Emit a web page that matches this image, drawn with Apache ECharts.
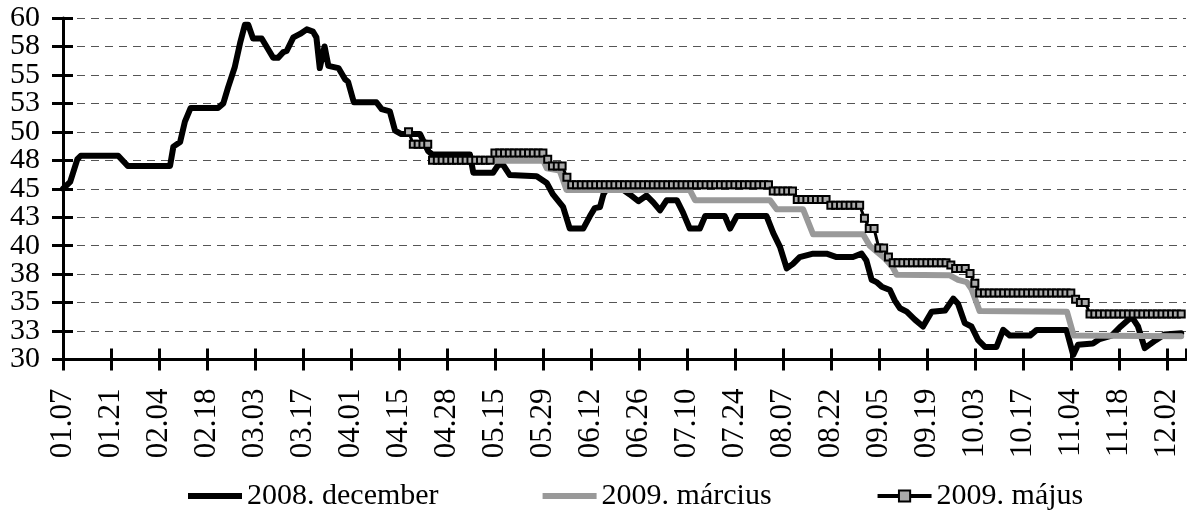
<!DOCTYPE html>
<html>
<head>
<meta charset="utf-8">
<script src="https://cdn.jsdelivr.net/npm/echarts@6/dist/echarts.min.js"></script>
<style>
  html, body { margin: 0; padding: 0; background: #fff; }
  #chart { width: 1187px; height: 513px; }
</style>
</head>
<body>
<div id="chart"></div>
<script>
  // x = business-day index from 01.07, a tick every 10 days
  const xTickLabels = ['01.07', '01.21', '02.04', '02.18', '03.03', '03.17', '04.01', '04.15',
    '04.28', '05.15', '05.29', '06.12', '06.26', '07.10', '07.24', '08.07', '08.22', '09.05',
    '09.19', '10.03', '10.17', '11.04', '11.18', '12.02'];
  const yTickLabels = ['30', '33', '35', '38', '40', '43', '45', '48', '50', '53', '55', '58', '60'];

  const seriesNames = ['2008. december', '2009. március', '2009. május'];

  // [day, value]
  const dec2008 = [[0, 45.0], [1.5, 45.6], [3.0, 47.6], [3.7, 47.9], [11.5, 47.9], [13.5, 47.0],
    [22.3, 47.0], [23.0, 48.7], [24.4, 49.1], [25.4, 50.9], [26.6, 52.1], [32.3, 52.1], [33.4, 52.5],
    [34.4, 53.9], [35.8, 55.7], [36.9, 57.8], [37.9, 59.4], [38.6, 59.4], [39.6, 58.2], [41.4, 58.2],
    [42.4, 57.5], [43.8, 56.5], [44.8, 56.5], [45.9, 57.0], [46.6, 57.1], [48.0, 58.3], [49.4, 58.6],
    [50.8, 59.0], [52.1, 58.8], [52.8, 58.3], [53.5, 55.6], [54.5, 57.5], [55.3, 55.8], [57.4, 55.6],
    [58.8, 54.6], [59.4, 54.4], [60.6, 52.6], [65.3, 52.6], [66.4, 52.0], [68.1, 51.8], [69.2, 50.1],
    [70.5, 49.8], [74.4, 49.8], [76.1, 48.3], [77.0, 48.0], [84.8, 48.0], [85.5, 46.4], [89.6, 46.4],
    [90.7, 47.1], [91.7, 47.1], [93.1, 46.2], [98.7, 46.1], [100.8, 45.5], [102.1, 44.5], [104.2, 43.4],
    [105.6, 41.5], [108.4, 41.5], [109.8, 42.6], [110.8, 43.3], [111.9, 43.4], [112.6, 44.5], [113.3, 45.0],
    [116.7, 44.9], [118.1, 44.5], [119.9, 43.9], [121.6, 44.4], [123.0, 43.8], [124.4, 43.1], [125.8, 44.0],
    [127.9, 44.0], [129.2, 42.9], [130.6, 41.5], [132.7, 41.5], [133.8, 42.6], [137.9, 42.6], [139.0, 41.5],
    [140.4, 42.6], [146.6, 42.6], [148.0, 41.1], [149.4, 39.9], [150.8, 38.0], [152.1, 38.4], [153.5, 39.0],
    [156.3, 39.3], [159.1, 39.3], [161.2, 39.0], [164.6, 39.0], [166.4, 39.3], [167.4, 38.7], [168.5, 37.0],
    [169.5, 36.8], [170.6, 36.4], [172.3, 36.1], [173.3, 35.2], [174.4, 34.5], [175.8, 34.2], [177.5, 33.5],
    [179.2, 32.9], [181.0, 34.2], [183.8, 34.3], [185.5, 35.35], [186.5, 34.9], [187.9, 33.2], [189.3, 32.9],
    [190.7, 31.7], [192.1, 31.1], [194.5, 31.1], [195.9, 32.6], [197.3, 32.1], [201.5, 32.1], [202.9, 32.6],
    [209.1, 32.6], [210.5, 30.4], [211.5, 31.3], [214.6, 31.4], [216.0, 31.8], [218.5, 32.1], [220.4, 32.9],
    [222.7, 33.75], [224.0, 32.9], [225.4, 31.0], [227.7, 31.7], [229.5, 32.2], [233, 32.3]];

  const mar2009 = [[77, 47.45], [100.1, 47.45], [100.8, 46.8], [103.5, 46.6], [104.9, 44.9], [130.6, 44.9],
    [131.7, 44.0], [147.3, 44.0], [148.7, 43.2], [154.2, 43.2], [156.3, 41.0], [166.7, 41.0], [168.1, 40.0],
    [169.5, 39.5], [171.2, 38.9], [172.9, 38.1], [173.7, 37.45], [184.8, 37.4], [186.5, 37.0], [188.3, 36.8],
    [189.3, 36.2], [191.0, 34.25], [209.2, 34.2], [210.6, 32.1], [233, 32.05]];

  // one value per business day, starting at day 72
  const majStart = 72;
  const majValues = [50.0,
    48.9, 48.9, 48.9, 48.9,
    47.5, 47.5, 47.5, 47.5, 47.5, 47.5, 47.5, 47.5, 47.5, 47.5, 47.5, 47.5, 47.5,
    48.15, 48.15, 48.15, 48.15, 48.15, 48.15, 48.15, 48.15, 48.15, 48.15, 48.15,
    47.6, 47.0, 47.0, 47.0, 46.0,
    45.35, 45.35, 45.35, 45.35, 45.35, 45.35, 45.35, 45.35, 45.35, 45.35,
    45.35, 45.35, 45.35, 45.35, 45.35, 45.35, 45.35, 45.35, 45.35, 45.35,
    45.35, 45.35, 45.35, 45.35, 45.35, 45.35, 45.35, 45.35, 45.35, 45.35,
    45.35, 45.35, 45.35, 45.35, 45.35, 45.35, 45.35, 45.35, 45.35, 45.35,
    45.35, 45.35,
    44.8, 44.8, 44.8, 44.8, 44.8,
    44.05, 44.05, 44.05, 44.05, 44.05, 44.05, 44.05,
    43.55, 43.55, 43.55, 43.55, 43.55, 43.55, 43.55,
    42.4, 41.5, 41.5, 39.8, 39.8, 39.0,
    38.5, 38.5, 38.5, 38.5, 38.5, 38.5, 38.5, 38.5, 38.5, 38.5, 38.5, 38.5,
    38.3, 38.0, 38.0, 38.0, 37.55, 36.7,
    35.85, 35.85, 35.85, 35.85, 35.85, 35.85, 35.85, 35.85, 35.85, 35.85,
    35.85, 35.85, 35.85, 35.85, 35.85, 35.85, 35.85, 35.85, 35.85, 35.85,
    35.3, 35.0, 35.0,
    34.0, 34.0, 34.0, 34.0, 34.0, 34.0, 34.0, 34.0, 34.0, 34.0,
    34.0, 34.0, 34.0, 34.0, 34.0, 34.0, 34.0, 34.0, 34.0, 34.0];

  const FONT = 'Liberation Serif';
  const xMax = 234;
  // plain thick bar used as legend icon for the two lines without markers
  const lineIcon = 'path://M0,0H54V6H0Z';

  let chart = echarts.init(document.getElementById('chart'), null, {renderer: 'canvas'});

  const tickStyle = {color: '#000', width: 3};

  // y labels sit 28px apart with a 30px font, so they are split over two
  // label-only axes (every other label) to stop echarts hiding 58 and 33
  function yLabelAxis(odd) {
    return {
      type: 'value',
      min: 30, max: 60, interval: 2.5,
      position: 'left',
      axisLine: {show: false},
      axisTick: {show: false},
      splitLine: {show: false},
      axisLabel: {
        margin: 23, fontSize: 30, fontFamily: FONT, color: '#000',
        formatter: function (v) {
          let i = Math.round((v - 30) / 2.5);
          return (i % 2 === 1) === odd ? yTickLabels[i] : '';
        }
      }
    };
  }

  const option = {
    animation: false,
    textStyle: {fontFamily: FONT, color: '#000'},
    grid: {left: 63, right: 1, top: 18, bottom: 153.5},
    legend: {
      data: [
        {name: seriesNames[0], icon: lineIcon},
        {name: seriesNames[1], icon: lineIcon},
        {name: seriesNames[2], lineStyle: {width: 4, color: '#000'}}
      ],
      left: 183,
      top: 476,
      itemWidth: 54,
      itemHeight: 14,
      itemGap: 104,
      textStyle: {fontFamily: FONT, fontSize: 30, color: '#000'}
    },
    xAxis: [
      {
        type: 'value',
        min: 0, max: xMax, interval: 10,
        position: 'bottom',
        axisLine: {show: true, lineStyle: {color: '#000', width: 3}},
        axisTick: {show: true, length: 11, lineStyle: tickStyle},
        splitLine: {show: false},
        axisLabel: {
          rotate: 90, margin: 29, fontSize: 31, fontFamily: FONT, color: '#000',
          showMaxLabel: false,
          formatter: function (v) { return xTickLabels[Math.round(v / 10)] || ''; }
        }
      },
      {
        // inner half of the crossing ticks
        type: 'value',
        min: 0, max: xMax, interval: 10,
        position: 'bottom',
        axisLine: {show: false},
        axisTick: {show: true, inside: true, length: 11, lineStyle: tickStyle},
        splitLine: {show: false},
        axisLabel: {show: false}
      }
    ],
    yAxis: [
      {
        type: 'value',
        min: 30, max: 60, interval: 2.5,
        position: 'left',
        axisLine: {show: true, lineStyle: {color: '#000', width: 3}},
        axisTick: {show: true, length: 11, lineStyle: tickStyle},
        splitLine: {show: true, lineStyle: {color: '#555', width: 1, type: [8, 6]}},
        axisLabel: {show: false}
      },
      {
        type: 'value',
        min: 30, max: 60, interval: 2.5,
        position: 'left',
        axisLine: {show: false},
        axisTick: {show: true, inside: true, length: 10, lineStyle: tickStyle},
        splitLine: {show: false},
        axisLabel: {show: false}
      },
      yLabelAxis(false),
      yLabelAxis(true)
    ],
    series: [
      {
        name: seriesNames[0],
        type: 'line',
        data: dec2008,
        symbol: 'none',
        z: 2,
        lineStyle: {color: '#000', width: 6, join: 'round', cap: 'round'},
        itemStyle: {color: '#000'}
      },
      {
        name: seriesNames[1],
        type: 'line',
        data: mar2009,
        symbol: 'none',
        z: 3,
        lineStyle: {color: '#999', width: 6, join: 'round', cap: 'round'},
        itemStyle: {color: '#999'}
      },
      {
        name: seriesNames[2],
        type: 'line',
        data: majValues.map(function (v, i) { return [majStart + i, v]; }),
        symbol: 'rect',
        symbolSize: 7,
        showAllSymbol: true,
        z: 4,
        lineStyle: {color: '#000', width: 3},
        itemStyle: {color: '#aaa', borderColor: '#000', borderWidth: 2}
      }
    ]
  };

  chart.setOption(option, true);
</script>
</body>
</html>
